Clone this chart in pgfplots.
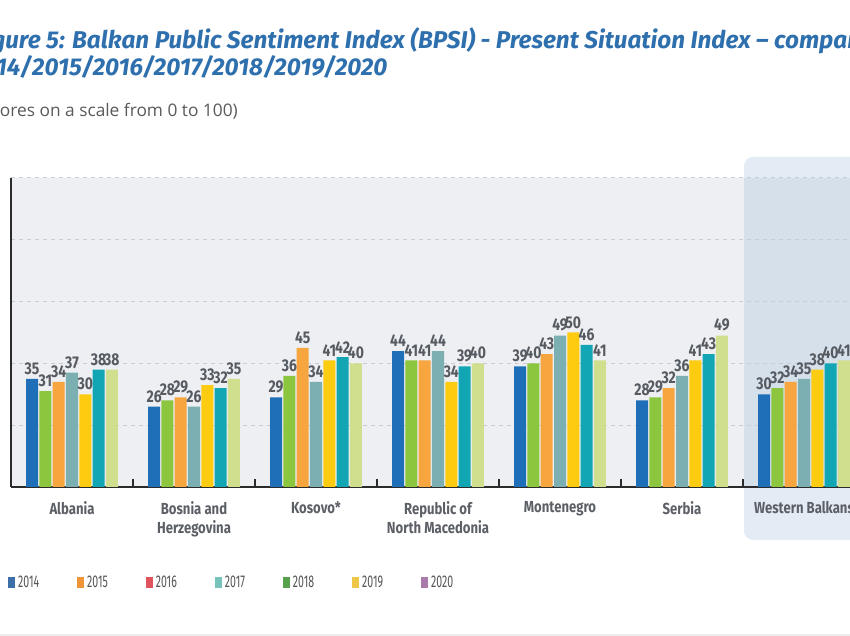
\documentclass[border=0pt]{standalone}
\usepackage{pgfplots}
\pgfplotsset{compat=1.18}
\usepackage{fontspec}
\setmainfont{Open Sans}
\newfontfamily\titlef{Fira Sans}
\newfontfamily\condf[FakeStretch=0.82]{Fira Sans}
\newfontfamily\legf[FakeStretch=0.62]{Fira Sans}
\definecolor{titleblue}{HTML}{2E6FAD}
\definecolor{subgray}{HTML}{5A5A5A}
\definecolor{plotbg}{HTML}{EDEFF2}
\definecolor{wbbox}{HTML}{E3ECF5}
\definecolor{wbplot}{HTML}{D6E0EA}
\definecolor{gridgray}{HTML}{C6CCD3}
\definecolor{axisdark}{HTML}{2B2B2B}
\definecolor{labgray}{HTML}{5C6066}
\definecolor{numgray}{HTML}{565A61}
\definecolor{leggray}{HTML}{555555}
\definecolor{ca}{HTML}{1F6FB8}
\definecolor{cb}{HTML}{8CC63E}
\definecolor{cc}{HTML}{F6A53F}
\definecolor{cd}{HTML}{7BAFB1}
\definecolor{ce}{HTML}{FDCB0F}
\definecolor{cf}{HTML}{12A6B4}
\definecolor{cg}{HTML}{D0DF8D}
\definecolor{la}{HTML}{3C6FA8}
\definecolor{lb}{HTML}{EF9437}
\definecolor{lc}{HTML}{E0525C}
\definecolor{ld}{HTML}{78C2BC}
\definecolor{le}{HTML}{58A14C}
\definecolor{lf}{HTML}{EEC748}
\definecolor{lg}{HTML}{A97BAA}
\begin{document}
\begin{tikzpicture}[x=1pt,y=1pt]
\begin{scope}[shift={(-11,-149)}]
\fill[white] (0,0) rectangle (850,636);
\fill[wbbox, rounded corners=9pt] (744,96) rectangle (900,479);
\fill[plotbg] (11,149) rectangle (744,458);
\fill[wbplot] (744,149) rectangle (900,458);
\draw[black!7, line width=2pt] (0,1) -- (850,1);
\node[anchor=base west, inner sep=0pt, font=\titlef\bfseries\itshape\fontsize{24.3}{28}\selectfont, text=titleblue] at (72,587) {\llap{Figure 5: }Balkan Public Sentiment Index (BPSI) - Present Situation Index – comparison};
\node[anchor=base west, inner sep=0pt, font=\titlef\bfseries\itshape\fontsize{24.3}{28}\selectfont, text=titleblue] at (32,560) {\llap{2014/}2015/2016/2017/2018/2019/2020};
\node[anchor=base east, inner sep=0pt, font=\fontsize{17.3}{21}\selectfont, text=subgray] at (238,519) {(Scores on a scale from 0 to 100)};
\end{scope}
\begin{axis}[
  width=854pt, height=309pt, scale only axis,
  xmin=-0.5, xmax=6.5, ymin=0, ymax=100,
  axis lines=left, axis line style={-},
  x axis line style={draw=axisdark, line width=2pt},
  y axis line style={draw=axisdark, line width=1.5pt},
  ybar, bar width=0.0984,
  xtick={0,...,6},
  xticklabels={Albania,{Bosnia and\\Herzegovina},Kosovo*,{Republic of\\North Macedonia},Montenegro,Serbia,Western Balkans},
  minor xtick={0.5,1.5,2.5,3.5,4.5,5.5},
  major x tick style={draw=none},
  minor x tick style={draw=axisdark, line width=1.3pt},
  minor tick length=8pt, xtick align=inside,
  ytick={20,40,60,80,100}, yticklabels={}, ytick style={draw=none},
  ymajorgrids,
  major grid style={draw=gridgray, line width=1pt, dash pattern=on 4pt off 4pt},
  xticklabel style={font=\condf\bfseries\fontsize{16}{19}\selectfont, text=labgray, align=center, anchor=north, inner sep=0pt},
  xticklabel shift=14pt,
  /pgf/number format/assume math mode=true,
  nodes near coords,
  every node near coord/.append style={font=\condf\bfseries\fontsize{17}{20}\selectfont, text=numgray, inner sep=0pt, anchor=south, yshift=4pt},
  legend columns=7,
  legend style={draw=none, fill=none, inner sep=0pt, at={(-0.0035,-0.309)}, anchor=west,
    font=\legf\fontsize{17}{20}\selectfont, text=leggray,
    /tikz/every odd column/.append style={column sep=3pt},
    /tikz/every even column/.append style={column sep=38pt},
    nodes={inner sep=0pt}},
  legend image code/.code={\fill[#1] (0pt,-5.5pt) rectangle (7pt,5.5pt);},
]
\addplot[fill=ca, draw=none, bar shift=-0.327, forget plot] coordinates {(0,35) (1,26) (2,29) (3,44) (4,39) (5,28) (6,30)};
\addplot[fill=cb, draw=none, bar shift=-0.218, forget plot] coordinates {(0,31) (1,28) (2,36) (3,41) (4,40) (5,29) (6,32)};
\addplot[fill=cc, draw=none, bar shift=-0.109, forget plot] coordinates {(0,34) (1,29) (2,45) (3,41) (4,43) (5,32) (6,34)};
\addplot[fill=cd, draw=none, bar shift=0, forget plot] coordinates {(0,37) (1,26) (2,34) (3,44) (4,49) (5,36) (6,35)};
\addplot[fill=ce, draw=none, bar shift=0.109, forget plot] coordinates {(0,30) (1,33) (2,41) (3,34) (4,50) (5,41) (6,38)};
\addplot[fill=cf, draw=none, bar shift=0.218, forget plot] coordinates {(0,38) (1,32) (2,42) (3,39) (4,46) (5,43) (6,40)};
\addplot[fill=cg, draw=none, bar shift=0.327, forget plot] coordinates {(0,38) (1,35) (2,40) (3,40) (4,41) (5,49) (6,41)};
\addlegendimage{fill=la, draw=none}\addlegendentry{2014}
\addlegendimage{fill=lb, draw=none}\addlegendentry{2015}
\addlegendimage{fill=lc, draw=none}\addlegendentry{2016}
\addlegendimage{fill=ld, draw=none}\addlegendentry{2017}
\addlegendimage{fill=le, draw=none}\addlegendentry{2018}
\addlegendimage{fill=lf, draw=none}\addlegendentry{2019}
\addlegendimage{fill=lg, draw=none}\addlegendentry{2020}
\end{axis}
\pgfresetboundingbox
\useasboundingbox (-11,-149) rectangle (839,487);
\end{tikzpicture}
\end{document}
